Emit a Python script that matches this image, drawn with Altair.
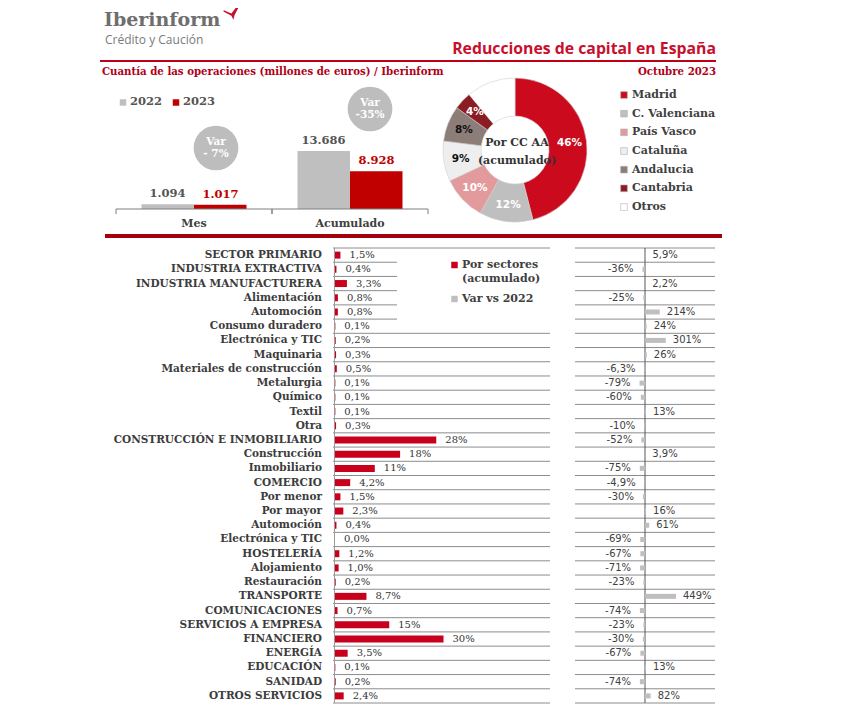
import altair as alt
import pandas as pd

# ---------------- data ----------------
years = ["2022", "2023"]
periods = ["Mes", "Acumulado"]
mes_values = [1094, 1017]
acum_values = [13686, 8928]
var_labels = ["- 7%", "-35%"]

regions = ["Madrid", "C. Valenciana", "País Vasco", "Cataluña", "Andalucia", "Cantabria", "Otros"]
region_share = [46, 12, 10, 9, 8, 4, 11]
region_colors = ["#cc0a1e", "#bfbfbf", "#e39a9c", "#eeeeee", "#8c7d78", "#8a1c22", "#ffffff"]

sectors = ["SECTOR PRIMARIO", "INDUSTRIA EXTRACTIVA", "INDUSTRIA MANUFACTURERA", "Alimentación",
           "Automoción", "Consumo duradero", "Electrónica y TIC", "Maquinaria",
           "Materiales de construcción", "Metalurgia", "Químico", "Textil", "Otra",
           "CONSTRUCCIÓN E INMOBILIARIO", "Construcción", "Inmobiliario", "COMERCIO",
           "Por menor", "Por mayor", "Automoción", "Electrónica y TIC", "HOSTELERÍA",
           "Alojamiento", "Restauración", "TRANSPORTE", "COMUNICACIONES",
           "SERVICIOS A EMPRESA", "FINANCIERO", "ENERGÍA", "EDUCACIÓN", "SANIDAD",
           "OTROS SERVICIOS"]
sector_share = [1.5, 0.4, 3.3, 0.8, 0.8, 0.1, 0.2, 0.3, 0.5, 0.1, 0.1, 0.1, 0.3, 28, 18, 11,
                4.2, 1.5, 2.3, 0.4, 0.0, 1.2, 1.0, 0.2, 8.7, 0.7, 15, 30, 3.5, 0.1, 0.2, 2.4]
sector_var = [5.9, -36, 2.2, -25, 214, 24, 301, 26, -6.3, -79, -60, 13, -10, -52, 3.9, -75,
              -4.9, -30, 16, 61, -69, -67, -71, -23, 449, -74, -23, -30, -67, 13, -74, 82]
sector_legend = ["Por sectores", "Var vs 2022"]

# ---------------- style ----------------
SERIF = "DejaVu Serif"
SANS = "DejaVu Sans"
TITLE = "Open Sans"
RED = "#c8001e"
DARKRED = "#a3000f"
GRAY = "#bfbfbf"
TXT = "#404040"
LINE = "#8c8c8c"
W, H = 838, 704


def X(v):
    return v - 8


def Y(v):
    return v - 8


one = alt.Data(values=[{"k": 1}])


def txt(text, x, y, size, color, font, weight="normal", align="left", baseline="alphabetic"):
    return alt.Chart(one).mark_text(
        text=text, fontSize=size, color=color, font=font, fontWeight=weight,
        align=align, baseline=baseline
    ).encode(x=alt.value(X(x)), y=alt.value(Y(y)))


def rule(x1, x2, y1, y2, color, width):
    return alt.Chart(one).mark_rule(color=color, strokeWidth=width).encode(
        x=alt.value(X(x1)), x2=alt.value(X(x2)), y=alt.value(Y(y1)), y2=alt.value(Y(y2))
    )


layers = []

# ---------------- header ----------------
layers.append(txt("Iberinform", 104, 26, 19, "#6e6e6e", SERIF, "bold"))
layers.append(txt("Crédito y Caución", 105, 44, 12, "#7a7a7a", TITLE))
logo_path = "M -0.9,-0.35 L 0.05,0.05 L 0.75,-0.85 L 0.95,-0.7 L 0.45,0.25 L 0.3,0.85 L 0.05,0.35 L -0.95,-0.2 Z"
layers.append(alt.Chart(one).mark_point(shape=logo_path, filled=True, color="#c8102e", size=256, opacity=1)
              .encode(x=alt.value(X(231)), y=alt.value(Y(13))))
layers.append(txt("Reducciones de capital en España", 716, 54, 15.8, "#c8102e", TITLE, "bold", "right"))
layers.append(rule(100, 716, 61, 61, "#c00018", 2))
layers.append(txt("Cuantía de las operaciones (millones de euros) / Iberinform", 102, 75, 10.2, "#b00018", SERIF, "bold"))
layers.append(txt("Octubre 2023", 716, 75, 10.2, "#b00018", SERIF, "bold", "right"))

# ---------------- top bar chart ----------------
top_rows = []
for p, vals in zip(periods, [mes_values, acum_values]):
    for yr, v in zip(years, vals):
        top_rows.append({"periodo": p, "anio": yr, "valor": v, "lab": f"{v:,}".replace(",", ".")})
top_df = pd.DataFrame(top_rows)

xs = alt.Scale(domain=periods, range=[X(116), X(428)], paddingInner=0, paddingOuter=0)
xcat = alt.X("periodo:N", sort=periods, scale=xs, axis=None)
xoff = alt.XOffset("anio:N", sort=years, scale=alt.Scale(domain=years, paddingInner=0, paddingOuter=0.486))
yval = alt.Y("valor:Q", scale=alt.Scale(domain=[0, 20000], range=[Y(209), Y(124.2)], nice=False), axis=None)

layers.append(alt.Chart(top_df).mark_bar().encode(
    x=xcat, xOffset=xoff, y=yval,
    color=alt.Color("anio:N", scale=alt.Scale(domain=years, range=[GRAY, "#c00000"]), legend=None)))

# value labels: centred on each year's bar (point scales across the two groups)
label_ranges = {"2022": [X(167.5), X(323.5)], "2023": [X(220.5), X(376.5)]}
label_colors = {"2022": "#555555", "2023": "#c00000"}
for yr in years:
    layers.append(alt.Chart(top_df).transform_filter(f"datum.anio == '{yr}'").mark_text(
        baseline="bottom", dy=-5, font=SERIF, fontWeight="bold", fontSize=11.5, color=label_colors[yr]).encode(
        x=alt.X("periodo:N", sort=periods, scale=alt.Scale(type="point", domain=periods, range=label_ranges[yr], padding=0), axis=None),
        y=yval, text="lab:N"))

per_df = pd.DataFrame({"periodo": periods, "var": var_labels})
layers.append(rule(116, 428, 209, 209, "#7f7f7f", 1))
for bp in [0, 1]:
    layers.append(alt.Chart(per_df).mark_rule(color="#7f7f7f", strokeWidth=1).encode(
        x=alt.X("periodo:N", sort=periods, scale=xs, axis=None, bandPosition=bp),
        y=alt.value(Y(209)), y2=alt.value(Y(214))))
layers.append(alt.Chart(per_df).mark_text(font=SERIF, fontWeight="bold", fontSize=11, color=TXT, baseline="middle").encode(
    x=xcat, y=alt.value(Y(224)), text="periodo:N"))

# bubbles
bx = alt.X("periodo:N", sort=periods, scale=alt.Scale(type="point", domain=periods, range=[X(216), X(370)], padding=0), axis=None)
by = alt.Y("periodo:N", sort=periods, scale=alt.Scale(type="point", domain=periods, range=[Y(148), Y(109)], padding=0), axis=None)
layers.append(alt.Chart(per_df).mark_circle(size=2000, color="#bdbdbd", opacity=1).encode(x=bx, y=by))
layers.append(alt.Chart(per_df).mark_text(text="Var", dy=-6, color="white", font=SERIF, fontWeight="bold", fontSize=10.5, baseline="middle").encode(x=bx, y=by))
layers.append(alt.Chart(per_df).mark_text(dy=6, color="white", font=SERIF, fontWeight="bold", fontSize=10.5, baseline="middle").encode(x=bx, y=by, text="var:N"))

# legend 2022 / 2023
yr_df = pd.DataFrame({"anio": years})
lx = alt.X("anio:N", sort=years, scale=alt.Scale(type="point", domain=years, range=[X(123), X(176)], padding=0), axis=None)
layers.append(alt.Chart(yr_df).mark_square(size=42, opacity=1).encode(
    x=lx, y=alt.value(Y(102.5)),
    color=alt.Color("anio:N", scale=alt.Scale(domain=years, range=[GRAY, "#c00000"]), legend=None)))
layers.append(alt.Chart(yr_df).mark_text(align="left", dx=7, baseline="middle", font=SERIF, fontWeight="bold", fontSize=11.5, color="#555555").encode(
    x=lx, y=alt.value(Y(102)), text="anio:N"))

# ---------------- donut ----------------
donut_df = pd.DataFrame({"region": regions, "pct": region_share, "orden": list(range(len(regions)))})
donut_df["lab"] = [f"{v}%" if r != "Otros" else "" for r, v in zip(regions, region_share)]
rcolor = alt.Color("region:N", sort=regions, scale=alt.Scale(domain=regions, range=region_colors), legend=None)
theta = alt.Theta("pct:Q", stack=True)
layers.append(alt.Chart(donut_df).mark_arc(innerRadius=34, outerRadius=72, stroke="#d0d0d0", strokeWidth=0.6).encode(
    theta=theta, color=rcolor, order=alt.Order("orden:Q"), x=alt.value(X(515)), y=alt.value(Y(150))))
layers.append(alt.Chart(donut_df).mark_text(radius=55, font=SANS, fontWeight="bold", fontSize=10.5).encode(
    theta=theta, order=alt.Order("orden:Q"), text="lab:N",
    color=alt.condition("datum.region == 'Cataluña' || datum.region == 'Andalucia'", alt.value("#111111"), alt.value("white")),
    x=alt.value(X(515)), y=alt.value(Y(150))))
layers.append(txt("Por CC AA", 517, 143, 11, "#333333", SERIF, "bold", "center", "middle"))
layers.append(txt("(acumulado)", 517, 161, 11, "#333333", SERIF, "bold", "center", "middle"))

ry = alt.Y("region:N", sort=regions, scale=alt.Scale(type="point", domain=regions, range=[Y(95), Y(207)], padding=0), axis=None)
layers.append(alt.Chart(donut_df).mark_square(size=45, opacity=1, stroke="#b0b0b0", strokeWidth=0.6).encode(
    x=alt.value(X(624)), y=ry, color=rcolor))
layers.append(alt.Chart(donut_df).mark_text(align="left", baseline="middle", font=SERIF, fontWeight="bold", fontSize=11, color=TXT).encode(
    x=alt.value(X(632)), y=ry, text="region:N"))

# separators
layers.append(rule(105, 722, 236, 236, DARKRED, 4))
layers.append(rule(107, 725, 716, 716, DARKRED, 3.5))

# ---------------- sectors ----------------
def fmt(v):
    return str(v).replace(".", ",") + "%"


sec_df = pd.DataFrame({
    "idx": list(range(len(sectors))),
    "sector": sectors,
    "share": sector_share,
    "var": sector_var,
    "share_lab": [fmt(v) for v in sector_share],
    "var_lab": [fmt(v) for v in sector_var],
})
N = len(sectors)
row_scale = alt.Scale(domain=list(range(N)), range=[Y(248), Y(703)], paddingInner=0, paddingOuter=0)
yrow = alt.Y("idx:O", scale=row_scale, axis=None)


def ylines(bp):
    return alt.Y("idx:O", scale=row_scale, axis=None, bandPosition=bp)


# grid lines left panel
layers.append(alt.Chart(sec_df).transform_filter("datum.idx < 1 || datum.idx > 5").mark_rule(color=LINE, strokeWidth=1).encode(
    y=ylines(0), x=alt.value(X(333)), x2=alt.value(X(550))))
layers.append(alt.Chart(sec_df).transform_filter("datum.idx >= 1 && datum.idx <= 5").mark_rule(color=LINE, strokeWidth=1).encode(
    y=ylines(0), x=alt.value(X(333)), x2=alt.value(X(397))))
layers.append(alt.Chart(sec_df).transform_filter(f"datum.idx == {N - 1}").mark_rule(color=LINE, strokeWidth=1).encode(
    y=ylines(1), x=alt.value(X(333)), x2=alt.value(X(550))))
# grid lines right panel
layers.append(alt.Chart(sec_df).mark_rule(color=LINE, strokeWidth=1).encode(
    y=ylines(0), x=alt.value(X(575)), x2=alt.value(X(715))))
layers.append(alt.Chart(sec_df).transform_filter(f"datum.idx == {N - 1}").mark_rule(color=LINE, strokeWidth=1).encode(
    y=ylines(1), x=alt.value(X(575)), x2=alt.value(X(715))))
# vertical axes
layers.append(rule(334.5, 334.5, 248, 703, "#9a9a9a", 1))
layers.append(rule(645, 645, 248, 703, "#555555", 1))

# sector names
layers.append(alt.Chart(sec_df).mark_text(align="right", baseline="middle", font=SERIF, fontWeight="bold", fontSize=10.5, color="#3c3c3c").encode(
    x=alt.value(X(322)), y=yrow, text="sector:N"))

xshare = alt.X("share:Q", scale=alt.Scale(domain=[0, 60], range=[X(335), X(552)], nice=False), axis=None)
layers.append(alt.Chart(sec_df).mark_bar(size=7, color=RED).encode(x=xshare, y=yrow))
layers.append(alt.Chart(sec_df).mark_text(align="left", dx=9, baseline="middle", font=SERIF, fontSize=10, color="#333333").encode(
    x=xshare, y=yrow, text="share_lab:N"))

xvar = alt.X("var:Q", scale=alt.Scale(domain=[-1000, 1000], range=[X(576), X(714)], nice=False), axis=None)
layers.append(alt.Chart(sec_df).mark_bar(size=5, color=GRAY).encode(x=xvar, y=yrow))
layers.append(alt.Chart(sec_df).transform_filter("datum.var >= 0").mark_text(align="left", dx=7, baseline="middle", font=SANS, fontSize=10, color=TXT).encode(
    x=xvar, y=yrow, text="var_lab:N"))
layers.append(alt.Chart(sec_df).transform_filter("datum.var < 0").mark_text(align="right", dx=-9, baseline="middle", font=SANS, fontSize=10, color=TXT).encode(
    x=xvar, y=yrow, text="var_lab:N"))

# sector legend
leg_df = pd.DataFrame({"k": sector_legend})
ly = alt.Y("k:N", sort=sector_legend, scale=alt.Scale(type="point", domain=sector_legend, range=[Y(265), Y(299)], padding=0), axis=None)
layers.append(alt.Chart(leg_df).mark_square(size=42, opacity=1).encode(
    x=alt.value(X(454.5)), y=ly,
    color=alt.Color("k:N", sort=sector_legend, scale=alt.Scale(domain=sector_legend, range=[RED, GRAY]), legend=None)))
layers.append(alt.Chart(leg_df).mark_text(align="left", baseline="middle", font=SERIF, fontWeight="bold", fontSize=11, color=TXT).encode(
    x=alt.value(X(462)), y=ly, text="k:N"))
layers.append(alt.Chart(leg_df).transform_filter("datum.k == 'Por sectores'").mark_text(
    text="(acumulado)", dy=14, align="left", baseline="middle", font=SERIF, fontWeight="bold", fontSize=11, color=TXT).encode(
    x=alt.value(X(462)), y=ly))

chart = alt.layer(*layers).resolve_scale(
    x="independent", y="independent", color="independent", theta="independent", xOffset="independent"
).properties(
    width=W, height=H, padding=0, autosize=alt.AutoSizeParams(type="none"), background="white"
).configure_view(stroke=None)

chart.save("out.html", embed_options={"renderer": "svg", "actions": False})
